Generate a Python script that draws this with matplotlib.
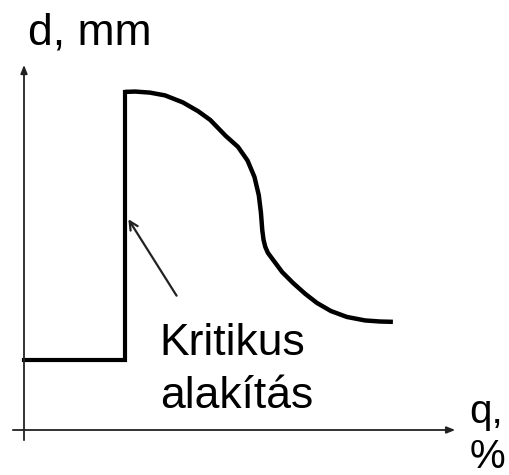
import matplotlib.pyplot as plt

plt.rcParams["font.family"] = ["Liberation Sans", "DejaVu Sans"]

# step part: low level, then jump at the critical deformation
step_q = [0.0, 23.3, 23.3]
step_d = [20.0, 20.0, 96.6]

# grain size curve after the critical deformation
curve_q = [23.3, 25.6, 29.0, 32.5, 36.6, 40.1, 42.9, 46.5, 49.3, 51.5, 53.1, 54.1, 54.6,
           54.9, 55.2, 55.6, 56.2, 57.4, 59.5, 62.0, 64.8, 67.5, 70.7, 74.4, 78.6, 82.0, 85.0]
curve_d = [96.6, 96.7, 96.4, 95.6, 93.6, 91.1, 88.6, 84.0, 80.9, 77.0, 72.3, 67.1, 62.0,
           57.1, 54.3, 52.3, 50.6, 48.6, 45.1, 42.0, 38.9, 36.3, 34.0, 32.3, 31.3, 31.0, 30.9]

# critical point arrow: from label to curve
arrow_from = (35.5, 37.7)
arrow_to = (23.7, 60.9)

fig = plt.figure(figsize=(5.09, 4.75), dpi=100)
ax = fig.add_axes([0, 0, 1, 1])
ax.set_xlim(-24 / 4.34, 485 / 4.34)
ax.set_ylim(-45 / 3.5, 430 / 3.5)
ax.axis("off")

# axes with arrows
ax.annotate("", xy=(100.0, 0), xytext=(-3.2, 0),
            arrowprops=dict(arrowstyle="-|>,head_length=0.5,head_width=0.2", lw=1.3, color="#222222"))
ax.annotate("", xy=(0, 105.1), xytext=(0, -3.7),
            arrowprops=dict(arrowstyle="-|>,head_length=0.5,head_width=0.2", lw=1.3, color="#222222"))

ax.plot(step_q, step_d, color="black", lw=3.0, solid_joinstyle="miter")
ax.plot(curve_q, curve_d, color="black", lw=3.2, solid_capstyle="butt", solid_joinstyle="round")

ax.annotate("", xy=arrow_to, xytext=arrow_from,
            arrowprops=dict(arrowstyle="->,head_length=0.6,head_width=0.3", lw=1.6, color="#222222"))

fs = 32
ax.text(0.9, 110.0, "d, mm", fontsize=fs, va="baseline", ha="left")
ax.text(31.3, 21.4, "Kritikus", fontsize=fs, va="baseline", ha="left")
ax.text(31.3, 6.3, "alakítás", fontsize=fs, va="baseline", ha="left")
ax.text(102.6, 2.0, "q,", fontsize=29, va="baseline", ha="left")
ax.text(102.6, -10.8, "%", fontsize=29, va="baseline", ha="left")

plt.savefig("out.png", dpi=100)
